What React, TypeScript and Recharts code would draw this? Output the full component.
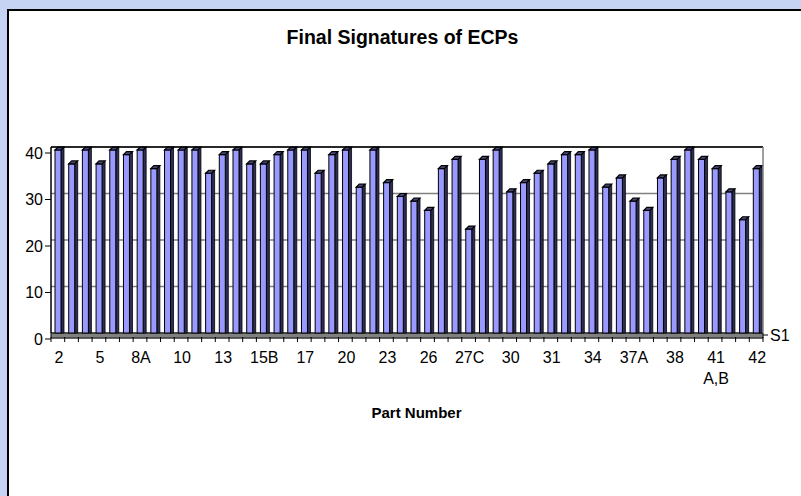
import { BarChart, Bar, XAxis, YAxis, CartesianGrid, ReferenceLine, ReferenceArea } from 'recharts';

const partNumbers = [
  '2', '3', '4', '5', '6', '7', '8A', '8B', '9', '10', '11', '12', '13',
  '14', '15A', '15B', '16', '16A', '17', '18', '19', '20', '21', '22', '23',
  '24', '25', '26', '27A', '27B', '27C', '28', '29', '30', '30A', '30B', '31',
  '32', '33', '34', '35', '36', '37A', '37B', '37C', '38', '39', '40', '41\nA,B',
  '41C', '41D', '42',
];

const signatures = [
  40, 37, 40, 37, 40, 39, 40, 36, 40, 40, 40, 35, 39,
  40, 37, 37, 39, 40, 40, 35, 39, 40, 32, 40, 33,
  30, 29, 27, 36, 38, 23, 38, 40, 31, 33, 35, 37,
  39, 39, 40, 32, 34, 29, 27, 34, 38, 40, 38, 36,
  31, 25, 36,
];

const yTicks = [0, 10, 20, 30, 40];
const seriesName = 'S1';

const data = partNumbers.map((part, i) => ({ part, S1: signatures[i] }));

const FONT = '"Liberation Sans", Arial, sans-serif';
const DEPTH = 3;
const HALF_BAND = 712 / partNumbers.length / 2;

// 3D-ish column: front face, dark right side, dark top cap
const Column = (props: any) => {
  const { x, y, width, height } = props;
  if (height == null || height <= 0) return null;
  const b = y + height;
  const d = DEPTH;
  return (
    <g>
      <polygon
        points={`${x + width},${y + d} ${x + width + d},${y} ${x + width + d},${b} ${x + width},${b}`}
        fill="#2e2e55"
        stroke="#000"
        strokeWidth={0.8}
      />
      <rect x={x} y={y + d} width={width} height={b - y - d} fill="#9999ff" stroke="#000" strokeWidth={1} />
      <polygon
        points={`${x},${y + d} ${x + width},${y + d} ${x + width + d},${y} ${x + d},${y}`}
        fill="#47477a"
        stroke="#000"
        strokeWidth={1.2}
      />
    </g>
  );
};

const PartTick = (props: any) => {
  const { x, y, payload, index } = props;
  const lines = String(payload.value).split('\n');
  const isLast = index === partNumbers.length - 1;
  return (
    <g>
      <line x1={x - HALF_BAND} y1={y + 4} x2={x - HALF_BAND} y2={y + 9} stroke="#000" />
      {isLast && <line x1={x + HALF_BAND} y1={y + 4} x2={x + HALF_BAND} y2={y + 9} stroke="#000" />}
      {index % 3 === 0 &&
        lines.map((ln, k) => (
          <text key={k} x={x + 1} y={y + 30 + k * 21} textAnchor="middle" fontSize={16} fontFamily={FONT} fill="#000">
            {ln}
          </text>
        ))}
    </g>
  );
};

const ValueTick = (props: any) => {
  const { x, y, payload } = props;
  return (
    <g>
      <line x1={x - 6} y1={y + 6} x2={x} y2={y + 6} stroke="#000" />
      <text x={x - 8} y={y + 11.5} textAnchor="end" fontSize={16} fontFamily={FONT} fill="#000">
        {payload.value}
      </text>
    </g>
  );
};

const SeriesLabel = (props: any) => {
  const { viewBox } = props;
  if (!viewBox) return null;
  const xr = viewBox.x + viewBox.width;
  const y = viewBox.y;
  return (
    <g>
      <line x1={xr} y1={y + 2} x2={xr + 5} y2={y + 2} stroke="#000" />
      <text x={xr + 7} y={y + 7.5} fontSize={16} fontFamily={FONT} fill="#000">
        {seriesName}
      </text>
    </g>
  );
};

export default function App() {
  return (
    <div style={{ position: 'fixed', left: 0, top: 0, right: 0, bottom: 0, background: '#c6d3f2', overflow: 'hidden' }}>
      <div
        style={{
          position: 'absolute',
          left: 7,
          top: 9,
          right: -20,
          bottom: -20,
          background: '#fff',
          borderLeft: '2px solid #000',
          borderTop: '2px solid #000',
        }}
      />
      <div
        style={{
          position: 'absolute',
          left: 0,
          width: 801,
          top: 26,
          textAlign: 'center',
          fontFamily: FONT,
          fontWeight: 'bold',
          fontSize: 19.5,
          paddingLeft: 2,
        }}
      >
        Final Signatures of ECPs
      </div>
      <div
        style={{
          position: 'absolute',
          left: 0,
          width: 801,
          top: 404,
          textAlign: 'center',
          fontFamily: FONT,
          fontWeight: 'bold',
          fontSize: 15,
          paddingLeft: 16,
        }}
      >
        Part Number
      </div>
      <div style={{ position: 'absolute', left: 0, top: 0 }}>
        <BarChart
          width={801}
          height={496}
          data={data}
          margin={{ top: 147, right: 8, bottom: 123, left: 11 }}
          barCategoryGap={0}
        >
          <CartesianGrid yAxisId="left" vertical={false} stroke="#808080" strokeWidth={1.5} />
          <XAxis
            dataKey="part"
            interval={0}
            tick={<PartTick />}
            tickLine={false}
            axisLine={false}
            tickSize={0}
            tickMargin={0}
            height={40}
          />
          <YAxis
            yAxisId="left"
            domain={[0, 40]}
            ticks={yTicks}
            width={40}
            tick={<ValueTick />}
            tickLine={false}
            tickSize={0}
            tickMargin={0}
            axisLine={{ stroke: '#000', strokeWidth: 1.5 }}
          />
          <YAxis
            yAxisId="right"
            orientation="right"
            domain={[0, 40]}
            tick={false}
            tickLine={false}
            width={30}
            axisLine={{ stroke: '#808080', strokeWidth: 1.5 }}
          />
          <ReferenceLine yAxisId="left" y={40} stroke="#000" strokeWidth={1.5} />
          <Bar yAxisId="left" dataKey="S1" barSize={6} shape={<Column />} isAnimationActive={false} />
          <ReferenceArea
            yAxisId="left"
            y1={-1.1}
            y2={0}
            ifOverflow="visible"
            fill="#808080"
            fillOpacity={1}
            stroke="#000"
            strokeWidth={1}
          />
          <ReferenceLine yAxisId="left" y={0} stroke="none" label={<SeriesLabel />} />
        </BarChart>
      </div>
    </div>
  );
}
